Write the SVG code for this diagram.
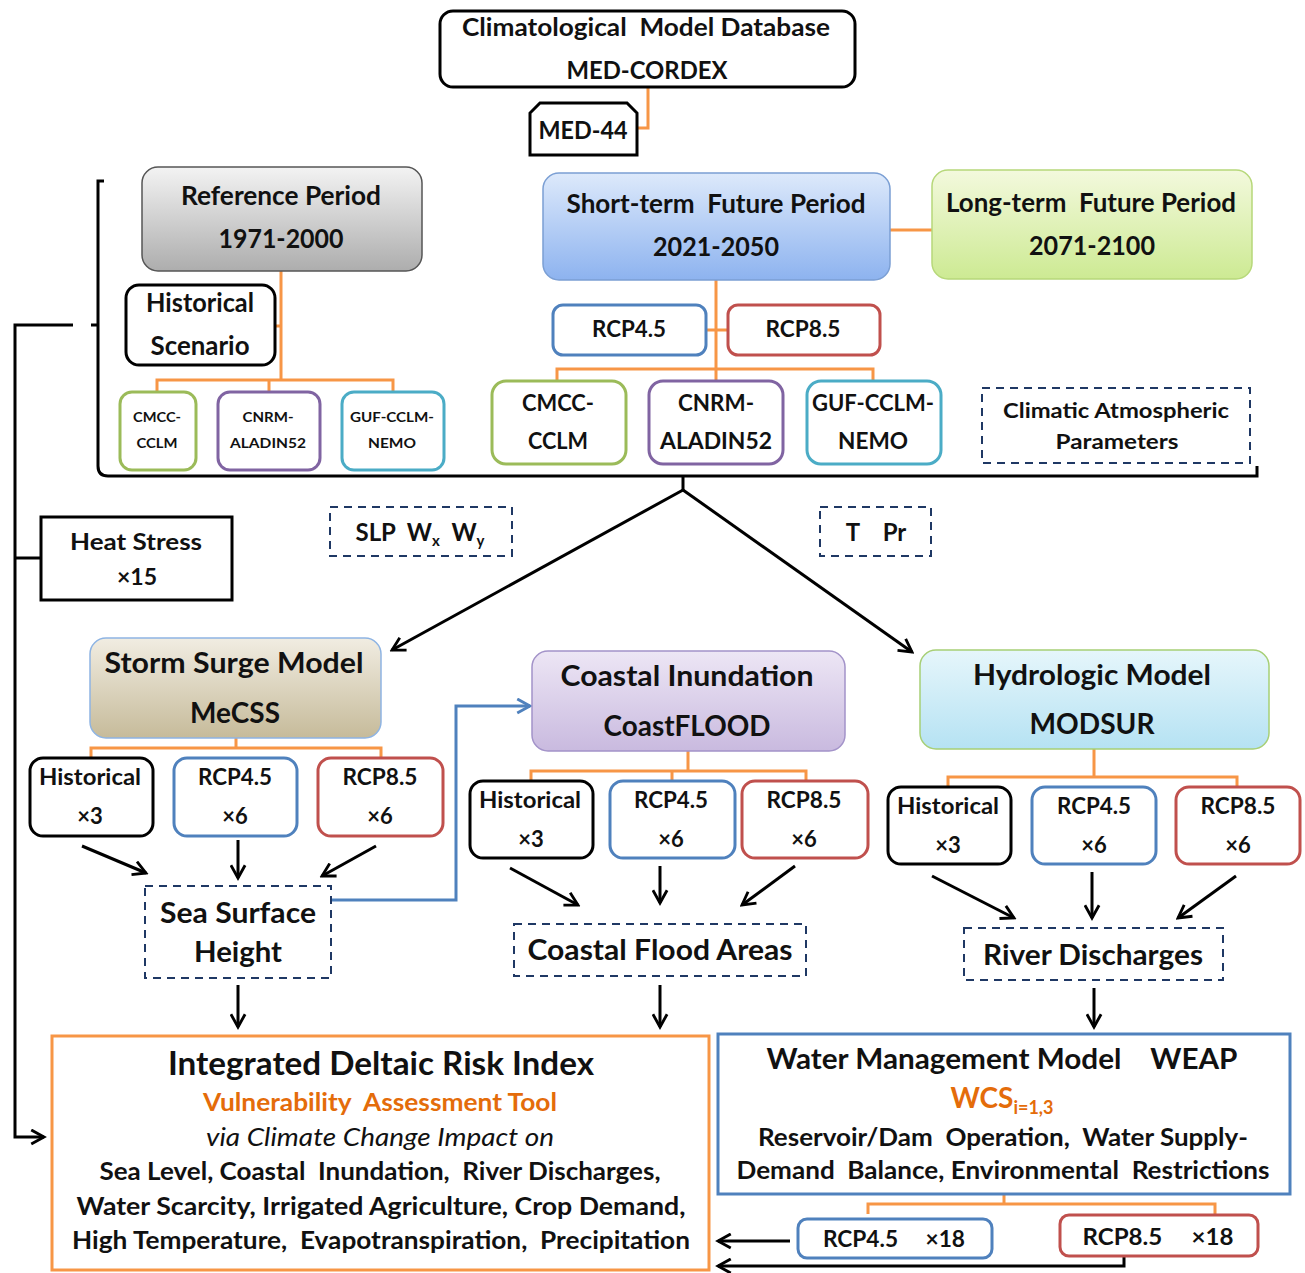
<svg xmlns="http://www.w3.org/2000/svg" width="1305" height="1273" viewBox="0 0 1305 1273" xml:space="preserve">
<defs>
<style>
text{font-family:Lato,"Open Sans","Liberation Sans",sans-serif;font-weight:bold;fill:#111;text-anchor:middle;white-space:pre}
.bk{fill:#fff;stroke:#000;stroke-width:3}
.blu{fill:#fff;stroke:#4f81bd;stroke-width:3}
.red{fill:#fff;stroke:#c0504d;stroke-width:3}
.grn{fill:#fff;stroke:#9bbb59;stroke-width:3}
.pur{fill:#fff;stroke:#8064a2;stroke-width:3}
.cya{fill:#fff;stroke:#4bacc6;stroke-width:3}
.dash{fill:#fff;stroke:#1f3864;stroke-width:2;stroke-dasharray:8 6}
.or{fill:none;stroke:#f79646;stroke-width:3}
.ar{fill:none;stroke:#000;stroke-width:3;marker-end:url(#ah)}
.ln{fill:none;stroke:#000;stroke-width:3}
</style>
<marker id="ah" viewBox="0 0 12 12" refX="10" refY="6" markerWidth="17" markerHeight="17" markerUnits="userSpaceOnUse" orient="auto"><path d="M1,1 L10,6 L1,11" fill="none" stroke="#000" stroke-width="2"/></marker>
<marker id="ahb" viewBox="0 0 12 12" refX="10" refY="6" markerWidth="17" markerHeight="17" markerUnits="userSpaceOnUse" orient="auto"><path d="M1,1 L10,6 L1,11" fill="none" stroke="#4f81bd" stroke-width="2"/></marker>
<linearGradient id="gGray" x1="0" y1="0" x2="0" y2="1"><stop offset="0" stop-color="#f3f3f3"/><stop offset="1" stop-color="#adadad"/></linearGradient>
<linearGradient id="gBlue" x1="0" y1="0" x2="0" y2="1"><stop offset="0" stop-color="#dde9fb"/><stop offset="1" stop-color="#8db3ef"/></linearGradient>
<linearGradient id="gGreen" x1="0" y1="0" x2="0" y2="1"><stop offset="0" stop-color="#f3f9dd"/><stop offset="1" stop-color="#cdea93"/></linearGradient>
<linearGradient id="gTan" x1="0" y1="0" x2="0" y2="1"><stop offset="0" stop-color="#f1ede2"/><stop offset="1" stop-color="#c6bb9a"/></linearGradient>
<linearGradient id="gPur" x1="0" y1="0" x2="0" y2="1"><stop offset="0" stop-color="#ede6f5"/><stop offset="1" stop-color="#c9badf"/></linearGradient>
<linearGradient id="gCyan" x1="0" y1="0" x2="0" y2="1"><stop offset="0" stop-color="#e6f6fb"/><stop offset="1" stop-color="#b5e2f3"/></linearGradient>
</defs>
<rect width="1305" height="1273" fill="#fff"/>

<g id="connectors">
<path class="or" d="M637,128 H648 V87"/>
<path class="or" d="M281,271 V380 M157,392 V380 H393 V392 M269,380 V392 M275,326 H281"/>
<path class="or" d="M716,280 V381 M557,381 V369 H873 V381 M706,330 H728"/>
<path class="or" d="M890,230 H932"/>
<path class="or" d="M236,738 V748 M91,758 V748 H381 V758"/>
<path class="or" d="M688,751 V771 M531,781 V771 H806 V781 M672,771 V781"/>
<path class="or" d="M1094,749 V777 M948,787 V777 H1237 V787"/>
<path class="or" d="M1004,1194 V1204 M868,1214 V1204 H1215 V1214"/>
<path class="ln" stroke-width="2" d="M104,181 H98 V466 Q98,476 108,476 H1257 V466 M98,325 H91 M683,476 V490"/>
<path class="ar" d="M683,490 L392,650"/>
<path class="ar" d="M683,490 L912,652"/>
<path class="ln" stroke-width="4" d="M73,325 H15 V1137 H44" marker-end="url(#ah)"/>
<path class="ln" stroke-width="4" d="M15,558 H40"/>
<path class="ar" d="M82,846 L146,873"/>
<path class="ar" d="M238,840 V878"/>
<path class="ar" d="M376,846 L322,876"/>
<path fill="none" stroke="#4f81bd" stroke-width="3" marker-end="url(#ahb)" d="M331,900 H456 V706 H530"/>
<path class="ar" d="M510,868 L578,905"/>
<path class="ar" d="M660,866 V903"/>
<path class="ar" d="M795,866 L742,905"/>
<path class="ar" d="M932,876 L1014,918"/>
<path class="ar" d="M1092,872 V918"/>
<path class="ar" d="M1236,876 L1178,918"/>
<path class="ar" d="M238,985 V1027"/>
<path class="ar" d="M660,985 V1027"/>
<path class="ar" d="M1094,988 V1027"/>
<path class="ar" d="M790,1241 H718"/>
<path class="ar" d="M1124,1256 V1266 H718"/>
</g>

<g id="db"><rect class="bk" x="440" y="11" width="415" height="76" rx="13"/>
<text x="646" y="36" font-size="25" textLength="368" lengthAdjust="spacingAndGlyphs">Climatological  Model Database</text>
<text x="647" y="79" font-size="25" textLength="161" lengthAdjust="spacingAndGlyphs">MED-CORDEX</text></g>

<g id="med44"><path class="bk" d="M540,103 H627 L637,113 V155 H530 V113 Z"/>
<text x="583" y="139" font-size="25" textLength="89" lengthAdjust="spacingAndGlyphs">MED-44</text></g>

<g id="refperiod"><rect x="142" y="167" width="280" height="104" rx="16" fill="url(#gGray)" stroke="#555" stroke-width="1.5"/>
<text x="281" y="205" font-size="26" textLength="200" lengthAdjust="spacingAndGlyphs">Reference Period</text>
<text x="281" y="248" font-size="26" textLength="125" lengthAdjust="spacingAndGlyphs">1971-2000</text></g>

<g id="histscen"><rect class="bk" x="126" y="285" width="149" height="80" rx="13"/>
<text x="200" y="312" font-size="26" textLength="108" lengthAdjust="spacingAndGlyphs">Historical</text>
<text x="200" y="355" font-size="26" textLength="99" lengthAdjust="spacingAndGlyphs">Scenario</text></g>

<g id="ref-cmcc"><rect class="grn" x="120" y="392" width="76" height="78" rx="12"/>
<text x="157" y="422" font-size="14" textLength="48" lengthAdjust="spacingAndGlyphs">CMCC-</text><text x="157" y="448" font-size="14" textLength="41" lengthAdjust="spacingAndGlyphs">CCLM</text></g>
<g id="ref-cnrm"><rect class="pur" x="218" y="392" width="102" height="78" rx="12"/>
<text x="268" y="422" font-size="14" textLength="51" lengthAdjust="spacingAndGlyphs">CNRM-</text><text x="268" y="448" font-size="14" textLength="76" lengthAdjust="spacingAndGlyphs">ALADIN52</text></g>
<g id="ref-guf"><rect class="cya" x="342" y="392" width="102" height="78" rx="12"/>
<text x="392" y="422" font-size="14" textLength="84" lengthAdjust="spacingAndGlyphs">GUF-CCLM-</text><text x="392" y="448" font-size="14" textLength="48" lengthAdjust="spacingAndGlyphs">NEMO</text></g>

<g id="shortterm"><rect x="543" y="173" width="347" height="107" rx="16" fill="url(#gBlue)" stroke="#7b9fd4" stroke-width="1.5"/>
<text x="716" y="213" font-size="26" textLength="299" lengthAdjust="spacingAndGlyphs">Short-term  Future Period</text>
<text x="716" y="256" font-size="26" textLength="126" lengthAdjust="spacingAndGlyphs">2021-2050</text></g>

<g id="longterm"><rect x="932" y="170" width="320" height="109" rx="16" fill="url(#gGreen)" stroke="#b7d87a" stroke-width="1.5"/>
<text x="1091" y="212" font-size="26" textLength="290" lengthAdjust="spacingAndGlyphs">Long-term  Future Period</text>
<text x="1092" y="255" font-size="26" textLength="126" lengthAdjust="spacingAndGlyphs">2071-2100</text></g>

<g id="st-rcp45"><rect class="blu" x="553" y="305" width="153" height="50" rx="10"/>
<text x="629" y="337" font-size="22" textLength="74" lengthAdjust="spacingAndGlyphs">RCP4.5</text></g>
<g id="st-rcp85"><rect class="red" x="728" y="305" width="152" height="50" rx="10"/>
<text x="803" y="337" font-size="22" textLength="75" lengthAdjust="spacingAndGlyphs">RCP8.5</text></g>

<g id="st-cmcc"><rect class="grn" x="492" y="381" width="134" height="83" rx="14"/>
<text x="558" y="411" font-size="22" textLength="72" lengthAdjust="spacingAndGlyphs">CMCC-</text><text x="558" y="449" font-size="22" textLength="60" lengthAdjust="spacingAndGlyphs">CCLM</text></g>
<g id="st-cnrm"><rect class="pur" x="649" y="381" width="134" height="83" rx="14"/>
<text x="716" y="411" font-size="22" textLength="76" lengthAdjust="spacingAndGlyphs">CNRM-</text><text x="716" y="449" font-size="22" textLength="112" lengthAdjust="spacingAndGlyphs">ALADIN52</text></g>
<g id="st-guf"><rect class="cya" x="807" y="381" width="134" height="83" rx="14"/>
<text x="873" y="411" font-size="22" textLength="122" lengthAdjust="spacingAndGlyphs">GUF-CCLM-</text><text x="873" y="449" font-size="22" textLength="70" lengthAdjust="spacingAndGlyphs">NEMO</text></g>

<g id="climparams"><rect class="dash" x="982" y="388" width="268" height="75"/>
<text x="1116" y="418" font-size="21" textLength="226" lengthAdjust="spacingAndGlyphs">Climatic Atmospheric</text>
<text x="1117" y="449" font-size="21" textLength="123" lengthAdjust="spacingAndGlyphs">Parameters</text></g>

<g id="slp"><rect class="dash" x="330" y="507" width="182" height="49"/>
<text x="420" y="541" font-size="24">SLP  W<tspan font-size="15" dy="5">x</tspan><tspan dy="-5">  W</tspan><tspan font-size="15" dy="5">y</tspan></text></g>

<g id="tpr"><rect class="dash" x="820" y="507" width="111" height="49"/>
<text x="876" y="541" font-size="24">T    Pr</text></g>

<g id="heat"><rect x="41" y="517" width="191" height="83" fill="#fff" stroke="#000" stroke-width="3"/>
<text x="136" y="550" font-size="23" textLength="132" lengthAdjust="spacingAndGlyphs">Heat Stress</text>
<text x="137" y="585" font-size="23">×15</text></g>

<g id="storm"><rect x="90" y="638" width="291" height="100" rx="16" fill="url(#gTan)" stroke="#8eb4e3" stroke-width="1.5"/>
<text x="234" y="673" font-size="29" textLength="259" lengthAdjust="spacingAndGlyphs">Storm Surge Model</text>
<text x="235" y="723" font-size="29" textLength="90" lengthAdjust="spacingAndGlyphs">MeCSS</text></g>

<g id="coastal"><rect x="532" y="651" width="313" height="100" rx="16" fill="url(#gPur)" stroke="#a393c9" stroke-width="1.5"/>
<text x="687" y="686" font-size="29" textLength="253" lengthAdjust="spacingAndGlyphs">Coastal Inundation</text>
<text x="687" y="736" font-size="29" textLength="167" lengthAdjust="spacingAndGlyphs">CoastFLOOD</text></g>

<g id="hydro"><rect x="920" y="650" width="349" height="99" rx="16" fill="url(#gCyan)" stroke="#a7cf76" stroke-width="1.5"/>
<text x="1092" y="685" font-size="29" textLength="238" lengthAdjust="spacingAndGlyphs">Hydrologic Model</text>
<text x="1092" y="734" font-size="29" textLength="125" lengthAdjust="spacingAndGlyphs">MODSUR</text></g>

<g id="ss-hist"><rect class="bk" x="30" y="758" width="123" height="78" rx="13"/>
<text x="90" y="785" font-size="22" textLength="102" lengthAdjust="spacingAndGlyphs">Historical</text><text x="90" y="824" font-size="22">×3</text></g>
<g id="ss-rcp45"><rect class="blu" x="174" y="758" width="123" height="78" rx="13"/>
<text x="235" y="785" font-size="22" textLength="74" lengthAdjust="spacingAndGlyphs">RCP4.5</text><text x="235" y="824" font-size="22">×6</text></g>
<g id="ss-rcp85"><rect class="red" x="318" y="758" width="125" height="78" rx="13"/>
<text x="380" y="785" font-size="22" textLength="75" lengthAdjust="spacingAndGlyphs">RCP8.5</text><text x="380" y="824" font-size="22">×6</text></g>

<g id="ci-hist"><rect class="bk" x="470" y="781" width="123" height="77" rx="13"/>
<text x="530" y="808" font-size="22" textLength="102" lengthAdjust="spacingAndGlyphs">Historical</text><text x="531" y="847" font-size="22">×3</text></g>
<g id="ci-rcp45"><rect class="blu" x="610" y="781" width="125" height="77" rx="13"/>
<text x="671" y="808" font-size="22" textLength="74" lengthAdjust="spacingAndGlyphs">RCP4.5</text><text x="671" y="847" font-size="22">×6</text></g>
<g id="ci-rcp85"><rect class="red" x="742" y="781" width="126" height="77" rx="13"/>
<text x="804" y="808" font-size="22" textLength="75" lengthAdjust="spacingAndGlyphs">RCP8.5</text><text x="804" y="847" font-size="22">×6</text></g>

<g id="hm-hist"><rect class="bk" x="888" y="787" width="123" height="77" rx="13"/>
<text x="948" y="814" font-size="22" textLength="102" lengthAdjust="spacingAndGlyphs">Historical</text><text x="948" y="853" font-size="22">×3</text></g>
<g id="hm-rcp45"><rect class="blu" x="1032" y="787" width="124" height="77" rx="13"/>
<text x="1094" y="814" font-size="22" textLength="74" lengthAdjust="spacingAndGlyphs">RCP4.5</text><text x="1094" y="853" font-size="22">×6</text></g>
<g id="hm-rcp85"><rect class="red" x="1176" y="787" width="124" height="77" rx="13"/>
<text x="1238" y="814" font-size="22" textLength="75" lengthAdjust="spacingAndGlyphs">RCP8.5</text><text x="1238" y="853" font-size="22">×6</text></g>

<g id="ssh"><rect class="dash" x="145" y="886" width="186" height="92"/>
<text x="238" y="923" font-size="29" textLength="156" lengthAdjust="spacingAndGlyphs">Sea Surface</text>
<text x="238" y="962" font-size="29" textLength="88" lengthAdjust="spacingAndGlyphs">Height</text></g>

<g id="cfa"><rect class="dash" x="514" y="924" width="292" height="52"/>
<text x="660" y="960" font-size="29" textLength="265" lengthAdjust="spacingAndGlyphs">Coastal Flood Areas</text></g>

<g id="rd"><rect class="dash" x="964" y="928" width="259" height="52"/>
<text x="1093" y="965" font-size="29" textLength="220" lengthAdjust="spacingAndGlyphs">River Discharges</text></g>

<g id="idri"><rect x="52" y="1036" width="657" height="234" fill="#fff" stroke="#f79646" stroke-width="3"/>
<text x="381" y="1075" font-size="33" textLength="426" lengthAdjust="spacingAndGlyphs">Integrated Deltaic Risk Index</text>
<text x="380" y="1111" font-size="25" textLength="354" lengthAdjust="spacingAndGlyphs" style="fill:#e46c0a">Vulnerability  Assessment Tool</text>
<text x="380" y="1146" font-size="25" textLength="348" lengthAdjust="spacingAndGlyphs" style="font-weight:normal;font-style:italic">via Climate Change Impact on</text>
<text x="380" y="1180" font-size="25" textLength="561" lengthAdjust="spacingAndGlyphs">Sea Level, Coastal  Inundation,  River Discharges,</text>
<text x="381" y="1215" font-size="25" textLength="609" lengthAdjust="spacingAndGlyphs">Water Scarcity, Irrigated Agriculture, Crop Demand,</text>
<text x="381" y="1249" font-size="25" textLength="618" lengthAdjust="spacingAndGlyphs">High Temperature,  Evapotranspiration,  Precipitation</text></g>

<g id="weap"><rect x="718" y="1034" width="572" height="160" fill="#fff" stroke="#4f81bd" stroke-width="3"/>
<text x="1002" y="1069" font-size="28" textLength="471" lengthAdjust="spacingAndGlyphs">Water Management Model    WEAP</text>
<text x="1002" y="1108" font-size="28" style="fill:#e46c0a">WCS<tspan font-size="18" dy="6">i=1,3</tspan></text>
<text x="1003" y="1146" font-size="25" textLength="490" lengthAdjust="spacingAndGlyphs">Reservoir/Dam  Operation,  Water Supply-</text>
<text x="1003" y="1179" font-size="25" textLength="533" lengthAdjust="spacingAndGlyphs">Demand  Balance, Environmental  Restrictions</text></g>

<g id="w-rcp45"><rect class="blu" x="798" y="1219" width="194" height="39" rx="9"/>
<text x="894" y="1247" font-size="22" textLength="142" lengthAdjust="spacingAndGlyphs">RCP4.5     ×18</text></g>
<g id="w-rcp85"><rect class="red" x="1060" y="1215" width="198" height="41" rx="9"/>
<text x="1158" y="1245" font-size="22" textLength="151" lengthAdjust="spacingAndGlyphs">RCP8.5     ×18</text></g>
</svg>
